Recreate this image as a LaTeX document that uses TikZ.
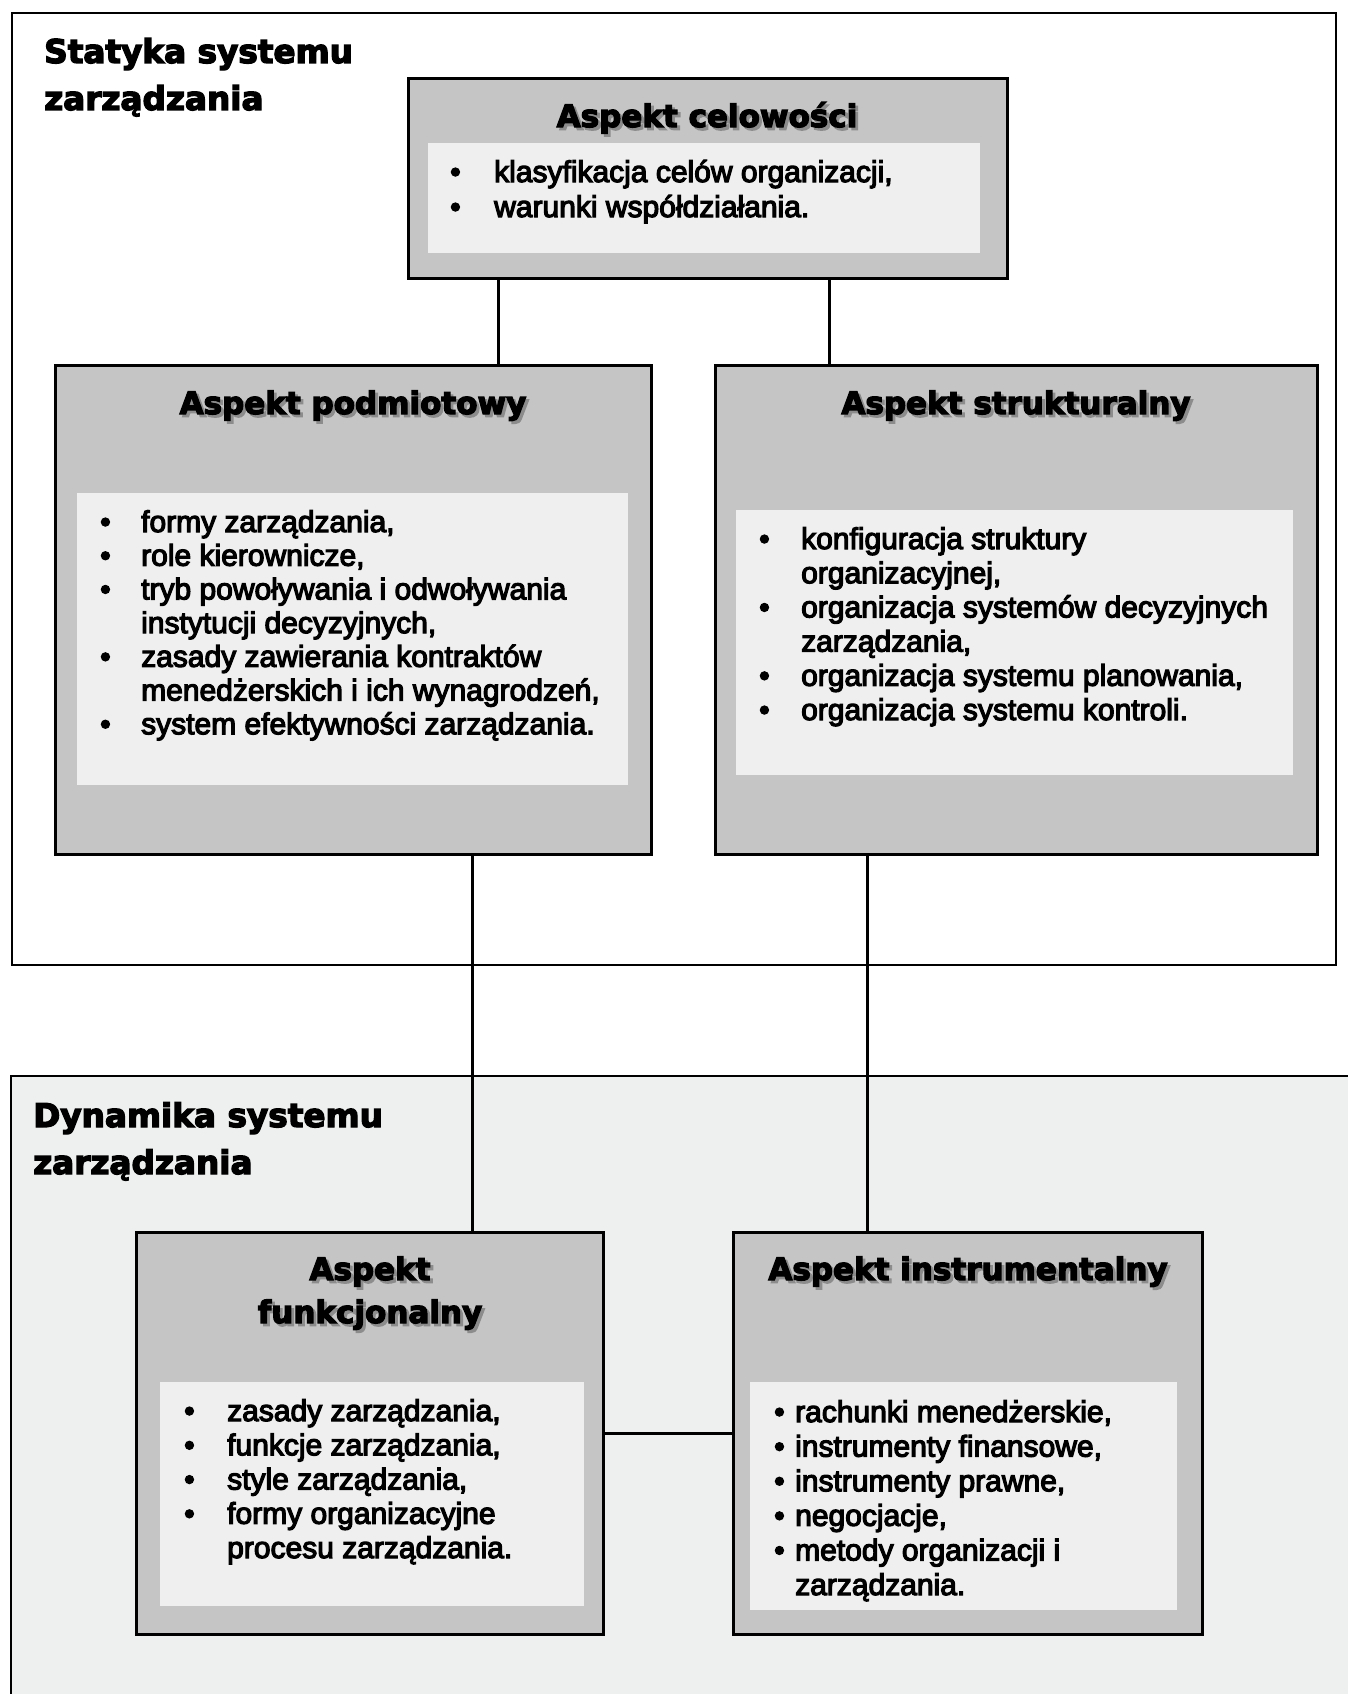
\documentclass[tikz,border=0pt]{standalone}
\usepackage{fontspec}
\usepackage{array}
\setmainfont{Liberation Sans}[FakeBold=4]
\newfontfamily\heavyfont{DejaVu Sans}[BoldFeatures={FakeBold=4}]

\definecolor{boxgray}{HTML}{C5C5C5}
\definecolor{panelfill}{HTML}{EFEFEF}
\definecolor{lowerbg}{HTML}{EEF0F0}
\definecolor{shadowgray}{HTML}{8C8C8C}

% heavy heading with a soft drop shadow
\newcommand\shadowed[1]{\leavevmode\rlap{\kern2.8pt\raisebox{-2.8pt}{\color{shadowgray}#1}}#1}
% rectangle node given by its corners: style, name, x1, y1, x2, y2
\newcommand\boxnode[6]{%
  \node[#1, minimum width={(#5-#3)*1pt}, minimum height={(#6-#4)*1pt}]
    (#2) at ({(#3+#5)/2},{(#4+#6)/2}) {};}
% one bullet line and one continuation line of a list
\newcommand\bitem[1]{\textbullet & #1\\}
\newcommand\bcont[1]{ & #1\\}

\tikzset{
  plainrect/.style={rectangle, inner sep=0pt, outer sep=0pt},
  aspectbox/.style={plainrect, draw=black, line width=3pt, fill=boxgray},
  innerpanel/.style={plainrect, fill=panelfill},
  upperframe/.style={draw=black, line width=2pt, fill=white},
  lowerframe/.style={draw=black, line width=2pt, fill=lowerbg},
  link/.style={draw=black, line width=3pt},
  boxtitle/.style={inner sep=0pt, font=\heavyfont\bfseries\fontsize{31}{43}\selectfont},
  sectitle/.style={inner sep=0pt, font=\heavyfont\bfseries\fontsize{32.7}{47}\selectfont},
  listtext/.style={inner sep=0pt, anchor=base west, font=\fontsize{30}{#1}\selectfont},
}

\begin{document}
\begin{tikzpicture}[x=1pt, y=-1pt]
\useasboundingbox (0,0) rectangle (1347,1694);

% the two framed areas
\path[upperframe] (12,13) rectangle (1336,965);
\path[lowerframe] (11,1076) rectangle (1420,1760);

% section headings
\node[sectitle, anchor=base west] (statyka) at (44,63)
  {\begin{tabular}[t]{@{}l@{}}Statyka systemu\\zarządzania\end{tabular}};
\node[sectitle, anchor=base west] (dynamika) at (33,1127)
  {\begin{tabular}[t]{@{}l@{}}Dynamika systemu\\zarządzania\end{tabular}};

% aspect boxes
\boxnode{aspectbox}{cel}{408}{78}{1007}{278}
\boxnode{aspectbox}{pod}{55}{365}{651}{854}
\boxnode{aspectbox}{str}{715}{365}{1317}{854}
\boxnode{aspectbox}{fun}{136}{1232}{603}{1634}
\boxnode{aspectbox}{ins}{733}{1232}{1202}{1634}

% connectors
\draw[link] (cel.south -| 498,0) -- (pod.north -| 498,0);
\draw[link] (cel.south -| 829,0) -- (str.north -| 829,0);
\draw[link] (pod.south -| 472,0) -- (fun.north -| 472,0);
\draw[link] (str.south -| 867,0) -- (ins.north -| 867,0);
\draw[link] (fun.east |- 0,1433) -- (ins.west |- 0,1433);

% redraw boxes over the connector ends
\boxnode{aspectbox}{celB}{408}{78}{1007}{278}
\boxnode{aspectbox}{podB}{55}{365}{651}{854}
\boxnode{aspectbox}{strB}{715}{365}{1317}{854}
\boxnode{aspectbox}{funB}{136}{1232}{603}{1634}
\boxnode{aspectbox}{insB}{733}{1232}{1202}{1634}

% light inner panels
\boxnode{innerpanel}{celP}{428}{143}{980}{253}
\boxnode{innerpanel}{podP}{77}{493}{628}{785}
\boxnode{innerpanel}{strP}{736}{510}{1293}{775}
\boxnode{innerpanel}{funP}{160}{1382}{584}{1606}
\boxnode{innerpanel}{insP}{750}{1382}{1177}{1610}

% box headings
\node[boxtitle, anchor=base] (celT) at (707,127) {\shadowed{Aspekt celowości}};
\node[boxtitle, anchor=base] (podT) at (353,414) {\shadowed{Aspekt podmiotowy}};
\node[boxtitle, anchor=base] (strT) at (1016,414) {\shadowed{Aspekt strukturalny}};
\node[boxtitle, anchor=base] (funT) at (370,1280)
  {\begin{tabular}[t]{@{}c@{}}\shadowed{Aspekt}\\\shadowed{funkcjonalny}\end{tabular}};
\node[boxtitle, anchor=base] (insT) at (968,1280) {\shadowed{Aspekt instrumentalny}};

% bullet lists
\node[listtext=35] (celL) at (450,182)
  {\begin{tabular}[t]{@{}p{44pt}@{}l@{}}
   \bitem{klasyfikacja celów organizacji,}
   \bitem{warunki współdziałania.}
   \end{tabular}};
\node[listtext=33.7] (podL) at (100,532)
  {\begin{tabular}[t]{@{}p{41pt}@{}l@{}}
   \bitem{formy zarządzania,}
   \bitem{role kierownicze,}
   \bitem{tryb powoływania i odwoływania}
   \bcont{instytucji decyzyjnych,}
   \bitem{zasady zawierania kontraktów}
   \bcont{menedżerskich i ich wynagrodzeń,}
   \bitem{system efektywności zarządzania.}
   \end{tabular}};
\node[listtext=34.2] (strL) at (759,549)
  {\begin{tabular}[t]{@{}p{42pt}@{}l@{}}
   \bitem{konfiguracja struktury}
   \bcont{organizacyjnej,}
   \bitem{organizacja systemów decyzyjnych}
   \bcont{zarządzania,}
   \bitem{organizacja systemu planowania,}
   \bitem{organizacja systemu kontroli.}
   \end{tabular}};
\node[listtext=34.25] (funL) at (184,1421)
  {\begin{tabular}[t]{@{}p{43pt}@{}l@{}}
   \bitem{zasady zarządzania,}
   \bitem{funkcje zarządzania,}
   \bitem{style zarządzania,}
   \bitem{formy organizacyjne}
   \bcont{procesu zarządzania.}
   \end{tabular}};
\node[listtext=34.6] (insL) at (774,1422)
  {\begin{tabular}[t]{@{}p{21pt}@{}l@{}}
   \bitem{rachunki menedżerskie,}
   \bitem{instrumenty finansowe,}
   \bitem{instrumenty prawne,}
   \bitem{negocjacje,}
   \bitem{metody organizacji i}
   \bcont{zarządzania.}
   \end{tabular}};
\end{tikzpicture}
\end{document}
